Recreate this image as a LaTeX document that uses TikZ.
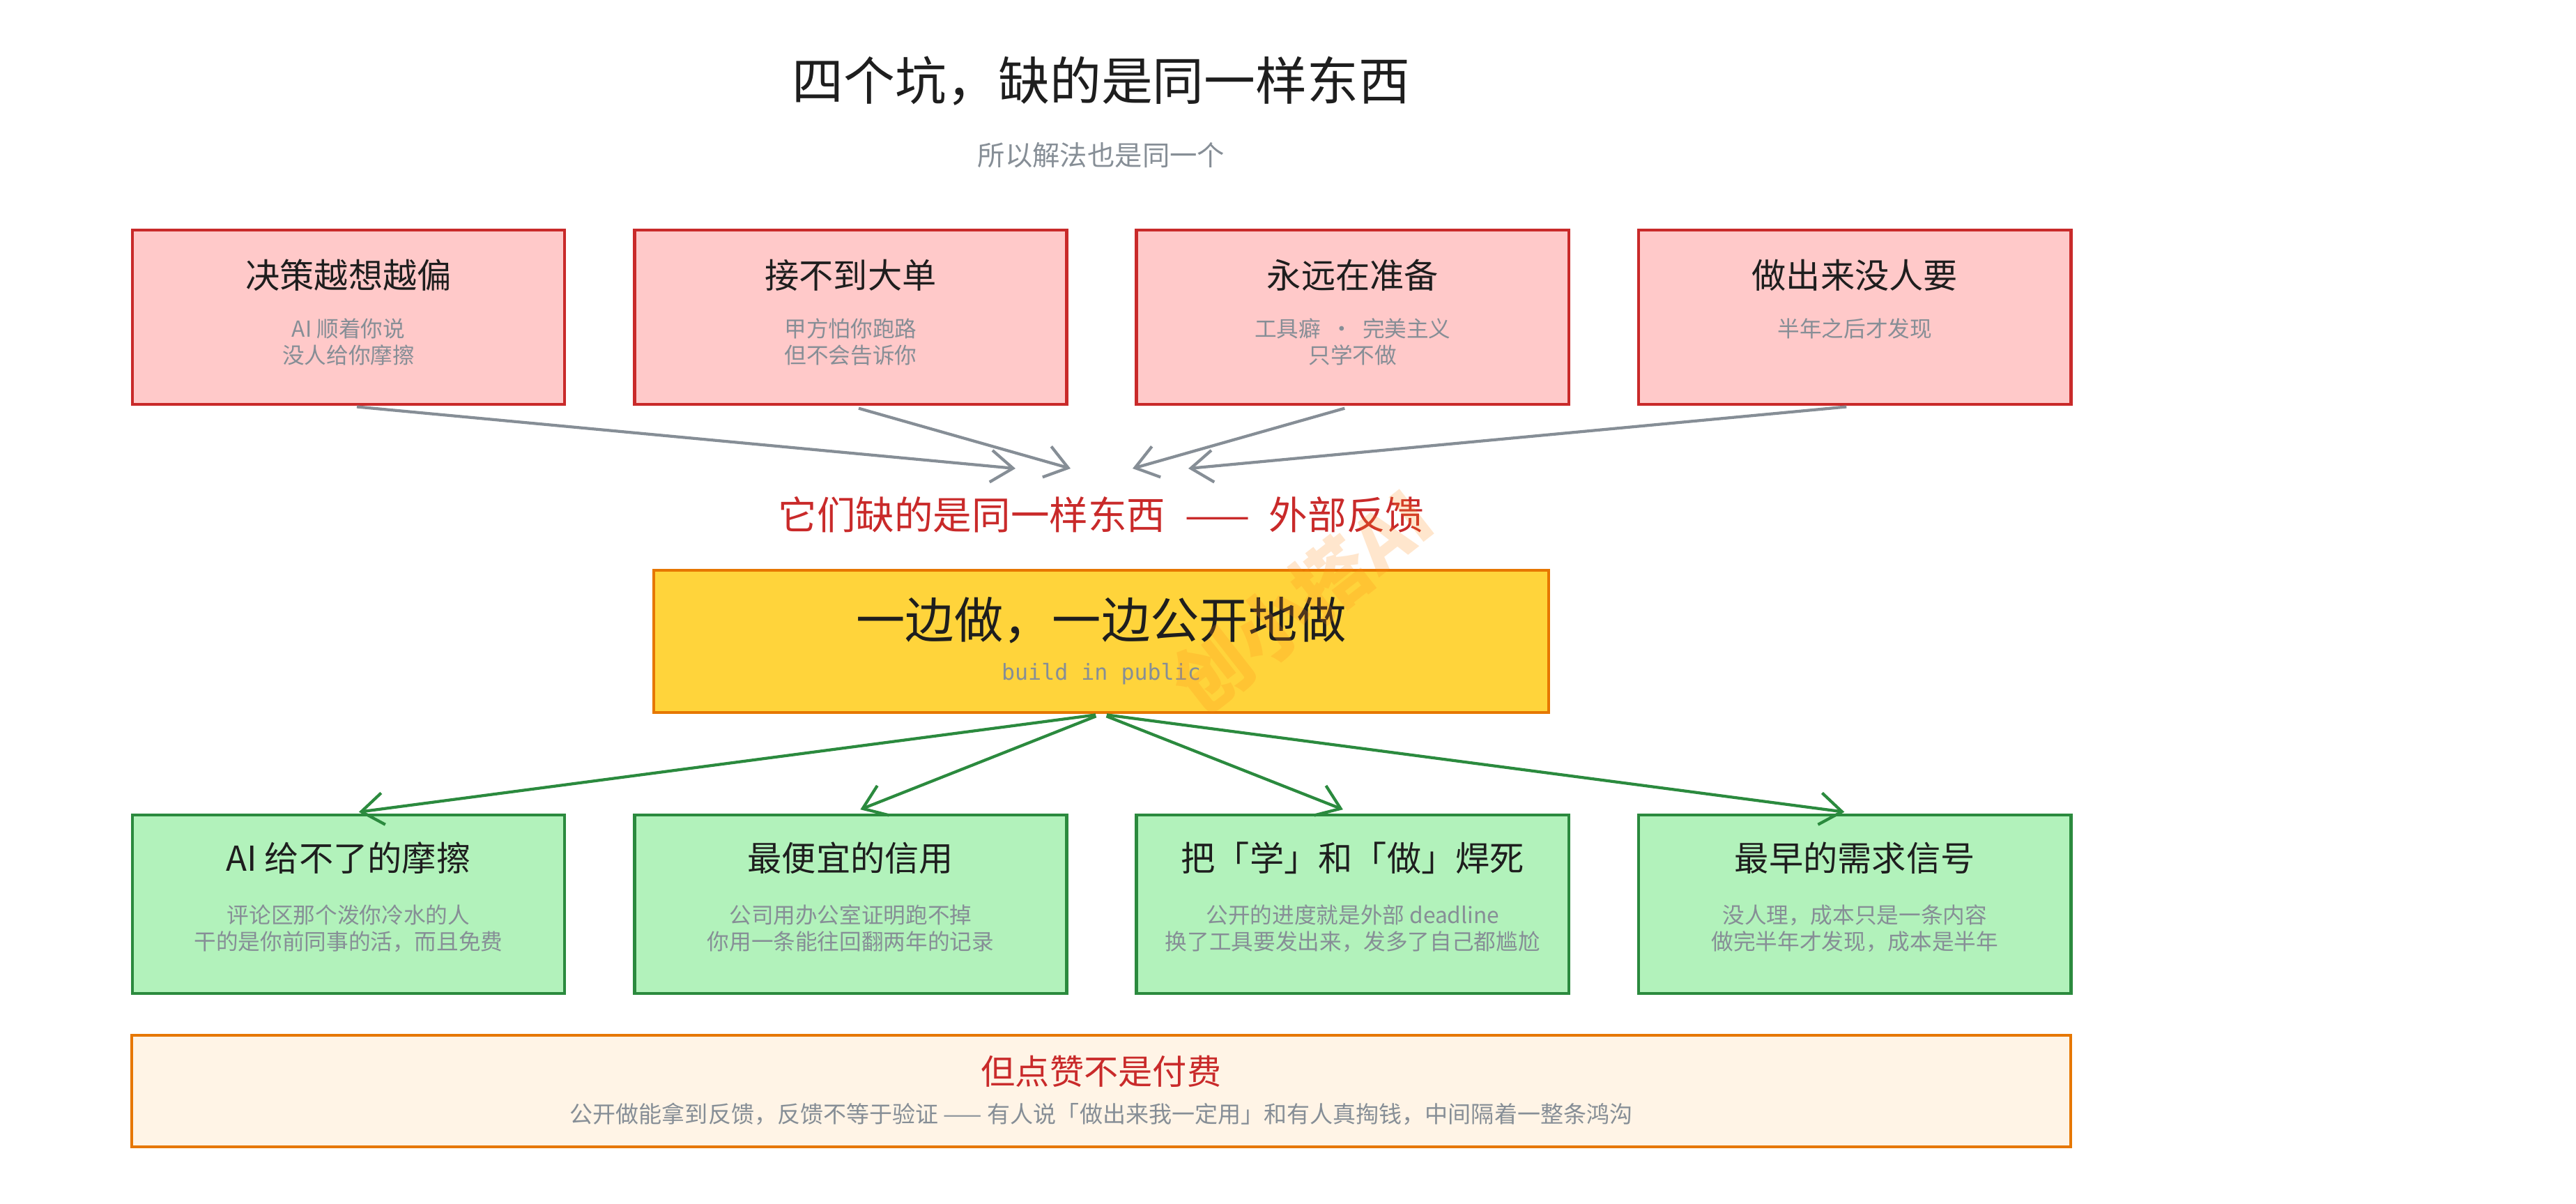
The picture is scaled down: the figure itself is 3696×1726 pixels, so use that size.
\documentclass[tikz,border=0pt]{standalone}
\usepackage{fontspec}
\setmainfont{Noto Sans CJK SC}
\setmonofont{DejaVu Sans Mono}
\usepackage{tikz}
\usetikzlibrary{positioning}
\usetikzlibrary{arrows.meta}
\usepackage{xcolor}

\definecolor{pitred}{HTML}{C92A2A}
\definecolor{pitfill}{HTML}{FFC9C9}
\definecolor{gaingreen}{HTML}{2B8A3E}
\definecolor{gainfill}{HTML}{B2F2BB}
\definecolor{coreorange}{HTML}{E67700}
\definecolor{corefill}{HTML}{FFD43B}
\definecolor{notefill}{HTML}{FFF4E6}
\definecolor{softgray}{HTML}{868E96}
\definecolor{inkblack}{HTML}{1E1E1E}
\definecolor{markorange}{HTML}{FF8C1A}

\tikzset{
  pit/.style={draw=pitred, fill=pitfill, line width=1.3pt, minimum width=6.2cm, minimum height=2.5cm},
  gain/.style={draw=gaingreen, fill=gainfill, line width=1.3pt, minimum width=6.2cm, minimum height=2.56cm},
  head/.style={text=inkblack, font=\fontsize{14}{16}\selectfont, inner sep=0pt},
  sub/.style={text=softgray, font=\fontsize{9}{10.8}\selectfont, align=center, inner sep=0pt, anchor=north},
  feed/.style={color=softgray, line width=1.2pt, -{Straight Barb[length=9pt,width=13pt]}, shorten <=0.12cm},
  spread/.style={color=gaingreen, line width=1.2pt, -{Straight Barb[length=9pt,width=13pt]}, shorten <=0.08cm, shorten >=0.15cm}
}

\begin{document}
\begin{tikzpicture}[x=0.01cm, y=-0.01cm, node distance=7.2cm, on grid]
   \useasboundingbox (0,0) rectangle (3696,1726);
   % title
   \node[head, font=\fontsize{21}{24}\selectfont] (title) at (1580,116) {四个坑，缺的是同一样东西};
   \node[sub, anchor=center, font=\fontsize{11.2}{13}\selectfont] (subtitle) at (1580,223) {所以解法也是同一个};

   % four pits
   \node[pit] (p_1) at (500,455) {};
   \node[pit] (p_2) [right=of p_1] {};
   \node[pit] (p_3) [right=of p_2] {};
   \node[pit] (p_4) [right=of p_3] {};
   \node[head] (ph_1) at ([yshift=-0.67cm]p_1.north) {决策越想越偏};
   \node[head] (ph_2) at ([yshift=-0.67cm]p_2.north) {接不到大单};
   \node[head] (ph_3) at ([yshift=-0.67cm]p_3.north) {永远在准备};
   \node[head] (ph_4) at ([yshift=-0.67cm]p_4.north) {做出来没人要};
   \node[sub] (ps_1) at ([yshift=-1.28cm]p_1.north) {AI 顺着你说\\没人给你摩擦};
   \node[sub] (ps_2) at ([yshift=-1.28cm]p_2.north) {甲方怕你跑路\\但不会告诉你};
   \node[sub] (ps_3) at ([yshift=-1.28cm]p_3.north) {工具癖 \ · \ 完美主义\\只学不做};
   \node[sub] (ps_4) at ([yshift=-1.28cm]p_4.north) {半年之后才发现};

   \coordinate (m_1) at (1457,672);
   \coordinate (m_2) at (1536,672);
   \coordinate (m_3) at (1625,672);
   \coordinate (m_4) at (1705,672);
    \path[feed]
    (p_1.south) edge (m_1)
    (p_2.south) edge (m_2)
    (p_3.south) edge (m_3)
    (p_4.south) edge (m_4);

   \node[text=pitred, inner sep=0pt, font=\fontsize{15.8}{18}\selectfont] (gap) at (1580,738) {它们缺的是同一样东西\enspace{}——\enspace{}外部反馈};

   % the one fix
   \node[draw=coreorange, fill=corefill, line width=1.3pt, minimum width=12.83cm, minimum height=2.04cm] (core) at (1580,920) {};
   \node[head, font=\fontsize{20}{24}\selectfont] (core_h) [above=0.3cm of core] {一边做，一边公开地做};
   \node[sub, font=\ttfamily\fontsize{9}{11}\selectfont] (core_s) [below=0.47cm of core] {build in public};

   % four gains
   \node[gain] (g_1) at (500,1297) {};
   \node[gain] (g_2) [right=of g_1] {};
   \node[gain] (g_3) [right=of g_2] {};
   \node[gain] (g_4) [right=of g_3] {};
   \node[head] (gh_1) at ([yshift=-0.64cm]g_1.north) {AI 给不了的摩擦};
   \node[head] (gh_2) at ([yshift=-0.64cm]g_2.north) {最便宜的信用};
   \node[head] (gh_3) at ([yshift=-0.64cm]g_3.north) {把「学」和「做」焊死};
   \node[head] (gh_4) at ([yshift=-0.64cm]g_4.north) {最早的需求信号};
   \node[sub] (gs_1) at ([yshift=-1.30cm]g_1.north) {评论区那个泼你冷水的人\\干的是你前同事的活，而且免费};
   \node[sub] (gs_2) at ([yshift=-1.30cm]g_2.north) {公司用办公室证明跑不掉\\你用一条能往回翻两年的记录};
   \node[sub] (gs_3) at ([yshift=-1.30cm]g_3.north) {公开的进度就是外部 deadline\\换了工具要发出来，发多了自己都尴尬};
   \node[sub] (gs_4) at ([yshift=-1.30cm]g_4.north) {没人理，成本只是一条内容\\做完半年才发现，成本是半年};

    \path[spread]
    (core.south) edge (g_1.north)
    (core.south) edge (g_2.north)
    (core.south) edge (g_3.north)
    (core.south) edge (g_4.north);

   % caveat
   \node[draw=coreorange, fill=notefill, line width=1.3pt, minimum width=27.8cm, minimum height=1.6cm] (note) at (1580,1565) {};
   \node[head, text=pitred] (note_h) [above=0.28cm of note] {但点赞不是付费};
   \node[sub, font=\fontsize{9.4}{11}\selectfont] (note_s) [below=0.33cm of note] {公开做能拿到反馈，反馈不等于验证 —— 有人说「做出来我一定用」和有人真掏钱，中间隔着一整条鸿沟};

   % watermark
   \node[rotate=38, text=markorange, opacity=0.22, inner sep=0pt, font=\bfseries\fontsize{31}{31}\selectfont] (mark) at (1868,862) {创小搭AI};
\end{tikzpicture}
\end{document}
